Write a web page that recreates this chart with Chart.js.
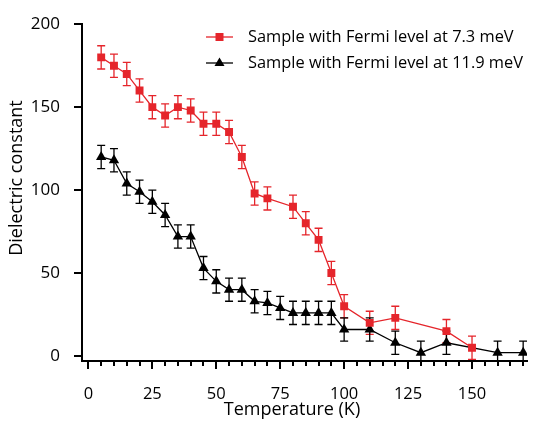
<!DOCTYPE html>
<html>
<head>
<meta charset="utf-8">
<script src="https://cdn.jsdelivr.net/npm/chart.js@4"></script>
<style>
html,body{margin:0;padding:0;background:#fff;}
#wrap{width:533px;height:426px;position:relative;}
</style>
</head>
<body>
<div id="wrap"><canvas id="c" width="533" height="426"></canvas></div>
<script>
// ---- data ----
const tempA = [5,10,15,20,25,30,35,40,45,50,55,60,65,70,80,85,90,95,100,110,120,140,150];
const epsA  = [180,175,170,160,150,145,150,148,140,140,135,120,98,95,90,80,70,50,30,20,23,15,5];
const errA  = [7,7,7,7,7,7,7,7,7,7,7,7,7,7,7,7,7,7,7,7,7,7,7];

const tempB = [5,10,15,20,25,30,35,40,45,50,55,60,65,70,75,80,85,90,95,100,110,120,130,140,160,170];
const epsB  = [120,118,104,99,93,85,72,72,53,45,40,40,33,32,29,26,26,26,26,16,16,8,2,8,2,2];
const errB  = [7,7,7,7,7,7,7,7,7,7,7,7,7,7,7,7,7,7,7,7,7,7,7,7,7,7];

const labelA = 'Sample with Fermi level at 7.3 meV';
const labelB = 'Sample with Fermi level at 11.9 meV';
const xTitle = 'Temperature (K)';
const yTitle = 'Dielectric constant';
const xTickLabels = [0,25,50,75,100,125,150];
const xMinorTicks = [0,5,10,15,20,25,30,35,40,45,50,55,60,65,70,75,80,85,90,95,100,105,110,115,120,125,130,135,140,145,150,155,160,165,170];
const yTickLabels = [0,50,100,150,200];

const RED = '#e5252b';
const FONT = '"Open Sans", "DejaVu Sans", sans-serif';

const errs = [errA, errB];

const errorBars = {
  id: 'errorBars',
  beforeDatasetsDraw(chart) {
    const ctx = chart.ctx, xs = chart.scales.x, ys = chart.scales.y;
    const area = chart.chartArea;
    ctx.save();
    ctx.beginPath();
    ctx.rect(area.left, area.top - 10, area.right - area.left, area.bottom - area.top + 10);
    ctx.clip();
    chart.data.datasets.forEach((ds, di) => {
      ctx.strokeStyle = ds.borderColor;
      ctx.lineWidth = 1.3;
      ds.data.forEach((p, i) => {
        const e = errs[di][i];
        const x = xs.getPixelForValue(p.x);
        const y1 = ys.getPixelForValue(p.y + e);
        const y2 = ys.getPixelForValue(p.y - e);
        ctx.beginPath();
        ctx.moveTo(x, y1); ctx.lineTo(x, y2);
        ctx.moveTo(x - 4, y1); ctx.lineTo(x + 4, y1);
        ctx.moveTo(x - 4, y2); ctx.lineTo(x + 4, y2);
        ctx.stroke();
      });
    });
    ctx.restore();
  }
};

const decor = {
  id: 'decor',
  afterDraw(chart) {
    const ctx = chart.ctx, xs = chart.scales.x, ys = chart.scales.y;
    const area = chart.chartArea;
    ctx.save();
    ctx.strokeStyle = '#000';
    ctx.lineWidth = 2;
    // x ticks
    xMinorTicks.forEach(v => {
      const x = Math.round(xs.getPixelForValue(v));
      const major = v % 25 === 0;
      ctx.beginPath();
      ctx.moveTo(x, area.bottom);
      ctx.lineTo(x, area.bottom + (major ? 8 : 5));
      ctx.stroke();
    });
    // y ticks
    yTickLabels.forEach(v => {
      const y = Math.round(ys.getPixelForValue(v));
      ctx.beginPath();
      ctx.moveTo(area.left, y);
      ctx.lineTo(area.left - 8, y);
      ctx.stroke();
    });
    // titles
    ctx.fillStyle = '#000';
    ctx.font = '18px ' + FONT;
    ctx.textAlign = 'center';
    ctx.textBaseline = 'middle';
    ctx.fillText(xTitle, 292, 410);
    ctx.save();
    ctx.translate(17, 178);
    ctx.rotate(-Math.PI / 2);
    ctx.fillText(yTitle, 0, 0);
    ctx.restore();
    // legend
    const items = [[labelA, RED, 'rect', 37], [labelB, '#000', 'triangle', 63]];
    items.forEach(([txt, col, st, y]) => {
      ctx.strokeStyle = col; ctx.fillStyle = col; ctx.lineWidth = 1.3;
      ctx.beginPath(); ctx.moveTo(206, y); ctx.lineTo(233, y); ctx.stroke();
      if (st === 'rect') { ctx.fillRect(215.5, y - 4, 8, 8); }
      else {
        ctx.beginPath();
        ctx.moveTo(219.5, y - 5.5); ctx.lineTo(224.5, y + 3); ctx.lineTo(214.5, y + 3);
        ctx.closePath(); ctx.fill();
      }
      ctx.fillStyle = '#000';
      ctx.font = '16.4px ' + FONT;
      ctx.textAlign = 'left';
      ctx.fillText(txt, 248, y);
    });
    ctx.restore();
  }
};

new Chart(document.getElementById('c'), {
  type: 'line',
  data: {
    datasets: [
      {
        label: labelA,
        data: tempA.map((t, i) => ({x: t, y: epsA[i]})),
        borderColor: RED, backgroundColor: RED,
        borderWidth: 1.3, pointStyle: 'rect', pointRadius: 5.6,
        pointBorderWidth: 0, tension: 0
      },
      {
        label: labelB,
        data: tempB.map((t, i) => ({x: t, y: epsB[i]})),
        borderColor: '#000', backgroundColor: '#000',
        borderWidth: 1.3, pointStyle: 'triangle', pointRadius: 6,
        pointBorderWidth: 0, tension: 0
      }
    ]
  },
  options: {
    responsive: false,
    animation: false,
    layout: {padding: {top: 15, right: 0, left: 0, bottom: 0}},
    plugins: {legend: {display: false}, tooltip: {enabled: false}},
    scales: {
      x: {
        type: 'linear', min: -2.5, max: 171.5,
        grid: {display: false},
        border: {display: true, width: 2, color: '#000'},
        ticks: {color: '#000', font: {family: FONT, size: 16.5}, padding: 15, maxRotation: 0},
        afterBuildTicks: s => { s.ticks = xTickLabels.map(v => ({value: v})); },
        afterFit: s => { s.height = 65; }
      },
      y: {
        type: 'linear', min: -3, max: 200,
        grid: {display: false},
        border: {display: true, width: 2, color: '#000'},
        ticks: {color: '#000', font: {family: FONT, size: 17}, padding: 14},
        afterBuildTicks: s => { s.ticks = yTickLabels.map(v => ({value: v})); },
        afterFit: s => { s.width = 82; }
      }
    }
  },
  plugins: [errorBars, decor]
});
</script>
</body>
</html>
